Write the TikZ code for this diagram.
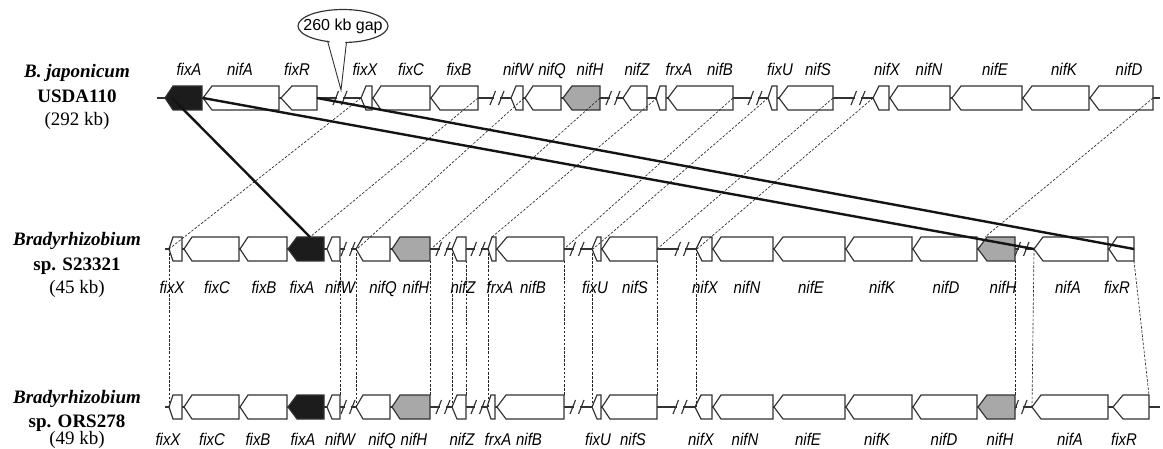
\documentclass[tikz,border=0pt]{standalone}
\usepackage{fontspec}
\setmainfont{Liberation Serif}
\newfontfamily\gsans{Liberation Sans}
\definecolor{outl}{RGB}{50,50,50}
\definecolor{ggray}{RGB}{168,168,168}
\definecolor{gblack}{RGB}{28,28,28}
\newcommand\genearrow[5]{\path[geneline,fill=#5] (#1,#4) -- (#2,#4-12) -- (#3,#4-12) -- (#3,#4+12) -- (#2,#4+12) -- cycle;}
\newcommand\gapmark[2]{\fill[white] (#1-3.2,#2-1.6) rectangle (#1+3.2,#2+1.6);
  \draw[backbone] (#1-7,#2+7) -- (#1-1.5,#2-7) (#1+1.5,#2+7) -- (#1+7,#2-7);}
\newcommand\gl[1]{\scalebox{0.88}[1]{#1}}
\begin{document}
\begin{tikzpicture}[x=1pt,y=-1pt,
  geneline/.style={draw=outl,line width=1.15pt,line join=miter},
  backbone/.style={draw=outl,line width=1.15pt},
  thickconn/.style={draw=black!92,line width=2.4pt},
  dashconn/.style={draw=black!85,line width=0.65pt,dash pattern=on 2.5pt off 1.6pt},
  glabel/.style={font=\gsans\itshape\fontsize{17pt}{17pt}\selectfont,inner sep=0pt,anchor=base},
  slabel/.style={font=\fontsize{19pt}{19pt}\selectfont,inner sep=0pt,anchor=base},
  callout/.style={font=\gsans\fontsize{16pt}{16pt}\selectfont,inner sep=0pt}]
\fill[white] (0,0) rectangle (1163,449);
\useasboundingbox (0,0) rectangle (1163,449);

% ---------- strain labels ----------
\node[slabel] (s1a) at (77,78) {\textbf{\textit{B. japonicum}}};
\node[slabel] (s1b) at (77,103) {\textbf{USDA110}};
\node[slabel] (s1c) at (77,126) {(292 kb)};
\node[slabel] (s2a) at (77,246) {\textbf{\textit{Bradyrhizobium}}};
\node[slabel] (s2b) at (77,271) {\textbf{sp. S23321}};
\node[slabel] (s2c) at (77,294) {(45 kb)};
\node[slabel] (s3a) at (77,403) {\textbf{\textit{Bradyrhizobium}}};
\node[slabel] (s3b) at (77,427) {\textbf{sp. ORS278}};
\node[slabel] (s3c) at (77,444) {(49 kb)};

% ---------- backbones ----------
\draw[backbone] (157,98) -- (1160,98);
\draw[backbone] (165,249) -- (1134,249);
\draw[backbone] (165,407) -- (1160,407);
\foreach \x in {340,497,613,755,858} {\gapmark{\x}{98}}
\foreach \x in {348,443,478,577,682,1022} {\gapmark{\x}{249}}
\foreach \x in {348,443,478,577,680,1020} {\gapmark{\x}{407}}

% ---------- row 1 genes ----------
\genearrow{165}{173}{202}{98}{gblack}
\genearrow{203}{212}{279}{98}{white}
\genearrow{281}{292}{317}{98}{white}
\genearrow{361}{366}{372}{98}{white}
\genearrow{373}{381}{430}{98}{white}
\genearrow{431}{440}{478}{98}{white}
\genearrow{511}{516}{523}{98}{white}
\genearrow{525}{533}{561}{98}{white}
\genearrow{563}{572}{600}{98}{ggray}
\genearrow{623}{631}{647}{98}{white}
\genearrow{656}{660}{666}{98}{white}
\genearrow{668}{677}{733}{98}{white}
\genearrow{768}{772}{777}{98}{white}
\genearrow{779}{788}{833}{98}{white}
\genearrow{873}{879}{889}{98}{white}
\genearrow{890}{898}{950}{98}{white}
\genearrow{952}{961}{1022}{98}{white}
\genearrow{1023}{1032}{1089}{98}{white}
\genearrow{1090}{1099}{1153}{98}{white}

% ---------- row 2 genes ----------
\genearrow{169}{173}{182}{249}{white}
\genearrow{184}{192}{239}{249}{white}
\genearrow{240}{248}{287}{249}{white}
\genearrow{288}{297}{324}{249}{gblack}
\genearrow{327}{332}{340}{249}{white}
\genearrow{356}{363}{390}{249}{white}
\genearrow{392}{400}{430}{249}{ggray}
\genearrow{452}{457}{466}{249}{white}
\genearrow{488}{492}{496}{249}{white}
\genearrow{497}{507}{564}{249}{white}
\genearrow{592}{597}{601}{249}{white}
\genearrow{602}{610}{657}{249}{white}
\genearrow{696}{702}{712}{249}{white}
\genearrow{713}{721}{773}{249}{white}
\genearrow{774}{783}{845}{249}{white}
\genearrow{846}{854}{912}{249}{white}
\genearrow{913}{921}{977}{249}{white}
\genearrow{978}{987}{1015}{249}{ggray}
\genearrow{1034}{1043}{1108}{249}{white}
\genearrow{1109}{1117}{1134}{249}{white}

% ---------- row 3 genes ----------
\genearrow{169}{173}{182}{407}{white}
\genearrow{184}{192}{239}{407}{white}
\genearrow{240}{248}{287}{407}{white}
\genearrow{288}{297}{324}{407}{gblack}
\genearrow{327}{332}{340}{407}{white}
\genearrow{356}{363}{390}{407}{white}
\genearrow{392}{400}{430}{407}{ggray}
\genearrow{452}{457}{466}{407}{white}
\genearrow{487}{491}{495}{407}{white}
\genearrow{497}{506}{564}{407}{white}
\genearrow{592}{597}{601}{407}{white}
\genearrow{602}{610}{657}{407}{white}
\genearrow{695}{701}{712}{407}{white}
\genearrow{713}{721}{773}{407}{white}
\genearrow{774}{783}{845}{407}{white}
\genearrow{846}{854}{912}{407}{white}
\genearrow{913}{921}{977}{407}{white}
\genearrow{978}{987}{1015}{407}{ggray}
\genearrow{1032}{1041}{1108}{407}{white}
\genearrow{1113}{1123}{1149}{407}{white}

% ---------- connector end points ----------
\coordinate (a1) at (361,98);  \coordinate (b1) at (169,249);
\coordinate (a2) at (478,98);  \coordinate (b2) at (310,237);
\coordinate (a3) at (524,98);  \coordinate (b3) at (357,249);
\coordinate (a4) at (600,98);  \coordinate (b4) at (431,249);
\coordinate (a5) at (657,98);  \coordinate (b5) at (492,237);
\coordinate (a6) at (733,98);  \coordinate (b6) at (564,249);
\coordinate (a7) at (768,98);  \coordinate (b7) at (593,249);
\coordinate (a8) at (833,98);  \coordinate (b8) at (657,249);
\coordinate (a9) at (873,98);  \coordinate (b9) at (697,249);
\coordinate (a10) at (1153,98); \coordinate (b10) at (985,237);
\coordinate (ta1) at (172,98);  \coordinate (tb1) at (310,237);
\coordinate (ta2) at (203,98);  \coordinate (tb2) at (1034,249);
\coordinate (ta3) at (317,98);  \coordinate (tb3) at (1134,249);

\foreach \i in {1,...,10} {\draw[dashconn] (a\i) -- (b\i);}
\foreach \i in {1,2,3} {\draw[thickconn] (ta\i) -- (tb\i);}

% vertical links row 2 -> row 3
\foreach \x/\u/\v [count=\k] in {169/249/407,340/261/395,356/249/407,430/261/395,452/249/407,466/261/395,488/249/407,564/261/395,592/249/407,657/261/395,696/249/407,1015/261/395} {
  \coordinate (u\k) at (\x,\u); \coordinate (v\k) at (\x,\v);
  \draw[dashconn] (u\k) -- (v\k);}
\coordinate (u13) at (1034,249); \coordinate (v13) at (1032,407);
\coordinate (u14) at (1134,261); \coordinate (v14) at (1149,395);
\draw[dashconn] (u13) -- (v13);
\draw[dashconn] (u14) -- (v14);

% ---------- gap callout ----------
\draw[geneline,fill=white] (343,26) ellipse [x radius=45pt,y radius=16.5pt];
\fill[white] (328,36) -- (341,80) -- (346,36) -- cycle;
\coordinate (tipgap) at (341,90);
\draw[geneline,line width=0.9pt] (327.5,40.8) -- (tipgap) -- (346.5,42);
\node[callout] (gap) at (343,26) {260 kb gap};

% ---------- gene labels ----------
\foreach \x/\t [count=\i] in {189/fixA,240/nifA,297/fixR,365/fixX,411/fixC,459/fixB,518/nifW,552/nifQ,590/nifH,637/nifZ,679/frxA,720/nifB,780/fixU,818/nifS,887/nifX,929/nifN,995/nifE,1064/nifK,1129/nifD}
  {\node[glabel] (ra\i) at (\x,76) {\gl{\t}};}
\foreach \x/\t [count=\i] in {172/fixX,217/fixC,264/fixB,302/fixA,340/nifW,383/nifQ,416/nifH,463/nifZ,500/frxA,533/nifB,595/fixU,635/nifS,705/nifX,747/nifN,811/nifE,882/nifK,946/nifD,1003/nifH,1068/nifA,1117/fixR}
  {\node[glabel] (rb\i) at (\x,294) {\gl{\t}};}
\foreach \x/\t [count=\i] in {168/fixX,212/fixC,258/fixB,303/fixA,340/nifW,382/nifQ,414/nifH,462/nifZ,498/frxA,529/nifB,598/fixU,633/nifS,701/nifX,745/nifN,808/nifE,877/nifK,944/nifD,1000/nifH,1070/nifA,1124/fixR}
  {\node[glabel] (rc\i) at (\x,445) {\gl{\t}};}
\end{tikzpicture}
\end{document}
